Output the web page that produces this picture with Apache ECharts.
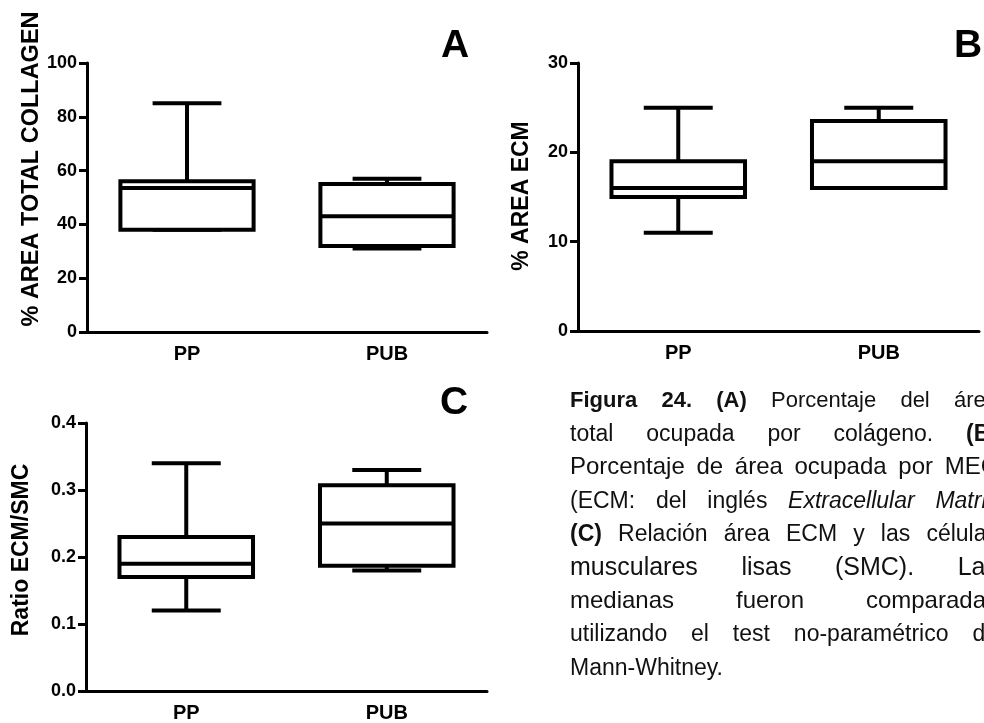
<!DOCTYPE html>
<html>
<head>
<meta charset="utf-8">
<script src="https://cdn.jsdelivr.net/npm/echarts@6/dist/echarts.min.js"></script>
<style>
  html, body { margin: 0; padding: 0; background: #fff; }
  #chart { width: 984px; height: 723px; }
</style>
</head>
<body>
<div id="chart"></div>
<script>
// Groups compared in every panel
const categories = ['PP', 'PUB'];

// Box statistics per group: [min, Q1, median, Q3, max]
const collagenStats = [
  [38, 38, 53.5, 56, 85],
  [31, 32, 43, 55, 57]
];
const ecmStats = [
  [11, 15, 16, 19, 25],
  [16, 16, 19, 23.5, 25]
];
const ratioStats = [
  [0.12, 0.17, 0.19, 0.23, 0.34],
  [0.18, 0.187, 0.25, 0.307, 0.33]
];

// Axis titles and panel tags
const yTitles = ['% AREA TOTAL COLLAGEN', '% AREA ECM', 'Ratio ECM/SMC'];
const panelTags = ['A', 'B', 'C'];

// Caption, one entry per printed line; each word may carry its own style
const captionLines = [
  [['Figura', 'b'], ['24.', 'b'], ['(A)', 'b'], ['Porcentaje'], ['del'], ['área']],
  [['total'], ['ocupada'], ['por'], ['colágeno.'], ['(B)', 'b']],
  [['Porcentaje'], ['de'], ['área'], ['ocupada'], ['por'], ['MEC']],
  [['(ECM:'], ['del'], ['inglés'], ['Extracellular', 'i'], ['Matrix', 'i']],
  [['(C)', 'b'], ['Relación'], ['área'], ['ECM'], ['y'], ['las'], ['células']],
  [['musculares'], ['lisas'], ['(SMC).'], ['Las']],
  [['medianas'], ['fueron'], ['comparadas']],
  [['utilizando'], ['el'], ['test'], ['no-paramétrico'], ['de']],
  [['Mann-Whitney.']]
];

const FONT = '"Liberation Sans", Arial, Helvetica, sans-serif';
const BLACK = '#000';

const chart = echarts.init(document.getElementById('chart'), null, { renderer: 'canvas' });

const grids = [
  { left: 87, top: 63, width: 400, height: 269 },
  { left: 578, top: 63, width: 401, height: 268 },
  { left: 86, top: 423, width: 401, height: 270 }
];

function xAxisFor(i) {
  return {
    type: 'category',
    gridIndex: i,
    data: categories,
    boundaryGap: true,
    axisLine: { lineStyle: { color: BLACK, width: 3 } },
    axisTick: { alignWithLabel: true, length: 8, lineStyle: { color: BLACK, width: 3 } },
    axisLabel: { color: BLACK, fontFamily: FONT, fontWeight: 'bold', fontSize: 20, margin: 12 },
    splitLine: { show: false }
  };
}

function yAxisFor(i, min, max, interval, fmt) {
  return {
    type: 'value',
    gridIndex: i,
    min: min, max: max, interval: interval,
    axisLine: { show: true, lineStyle: { color: BLACK, width: 3 } },
    axisTick: { show: true, length: 8, lineStyle: { color: BLACK, width: 3 } },
    axisLabel: { color: BLACK, fontFamily: FONT, fontWeight: 'bold', fontSize: 18, margin: 10, formatter: fmt },
    splitLine: { show: false }
  };
}

// Box with whiskers; caps are half as wide as the box
function renderBox(params, api) {
  const x = api.value(0);
  const band = api.size([1, 0])[0];
  const half = band * 0.333;
  const capHalf = band * 0.172;
  const pMin = api.coord([x, api.value(1)]);
  const pQ1 = api.coord([x, api.value(2)]);
  const pMed = api.coord([x, api.value(3)]);
  const pQ3 = api.coord([x, api.value(4)]);
  const pMax = api.coord([x, api.value(5)]);
  const cx = pMed[0];
  const style = { stroke: BLACK, lineWidth: 4, fill: null };
  const line = (x1, y1, x2, y2) => ({ type: 'line', shape: { x1, y1, x2, y2 }, style });
  return {
    type: 'group',
    children: [
      line(cx, pQ3[1], cx, pMax[1]),
      line(cx - capHalf, pMax[1], cx + capHalf, pMax[1]),
      line(cx, pQ1[1], cx, pMin[1]),
      line(cx - capHalf, pMin[1], cx + capHalf, pMin[1]),
      { type: 'rect', shape: { x: cx - half, y: pQ3[1], width: 2 * half, height: pQ1[1] - pQ3[1] },
        style: { stroke: BLACK, lineWidth: 4, fill: '#fff' } },
      line(cx - half, pMed[1], cx + half, pMed[1])
    ]
  };
}

function boxSeries(i, stats) {
  return {
    type: 'custom',
    xAxisIndex: i,
    yAxisIndex: i,
    renderItem: renderBox,
    encode: { x: 0, y: [1, 2, 3, 4, 5] },
    data: stats.map((s, k) => [k].concat(s)),
    silent: true
  };
}

// Caption layout: justified lines measured with the canvas text metrics
const measureCtx = document.createElement('canvas').getContext('2d');
function fontOf(kind, size) {
  const weight = kind === 'b' ? 'bold' : 'normal';
  const style = kind === 'i' ? 'italic' : 'normal';
  return { weight, style, css: `${style} ${weight} ${size}px ${FONT}` };
}
const captionSizes = [22, 23, 24, 23, 23, 25, 24, 23, 23];
const captionLeft = 570;
const captionRight = 998;
const captionTop = 401;
const captionStep = 33.4;

const captionGraphics = [];
captionLines.forEach((words, li) => {
  const size = captionSizes[li];
  const widths = words.map(w => {
    measureCtx.font = fontOf(w[1], size).css;
    return measureCtx.measureText(w[0]).width;
  });
  const total = widths.reduce((a, b) => a + b, 0);
  const last = li === captionLines.length - 1;
  const gap = (last || words.length < 2) ? size * 0.278 : (captionRight - captionLeft - total) / (words.length - 1);
  let x = captionLeft;
  words.forEach((w, wi) => {
    const f = fontOf(w[1], size);
    captionGraphics.push({
      type: 'text',
      x: x,
      y: captionTop + li * captionStep,
      style: {
        text: w[0], fill: '#111', fontFamily: FONT, fontSize: size,
        fontWeight: f.weight, fontStyle: f.style, align: 'left', verticalAlign: 'middle'
      }
    });
    x += widths[wi] + gap;
  });
});

const titlePos = [[32, 169, 23.5], [522, 196, 23], [22, 550, 23]];
const tagPos = [[455, 46], [968, 46], [454, 403]];

const graphics = [];
yTitles.forEach((t, i) => {
  graphics.push({
    type: 'text', x: titlePos[i][0], y: titlePos[i][1], rotation: Math.PI / 2,
    style: { text: t, fill: BLACK, fontFamily: FONT, fontWeight: 'bold', fontSize: titlePos[i][2],
      align: 'center', verticalAlign: 'middle' }
  });
});
panelTags.forEach((t, i) => {
  graphics.push({
    type: 'text', x: tagPos[i][0], y: tagPos[i][1],
    style: { text: t, fill: BLACK, fontFamily: FONT, fontWeight: 'bold', fontSize: 39,
      align: 'center', verticalAlign: 'middle' }
  });
});

chart.setOption({
  backgroundColor: '#fff',
  animation: false,
  grid: grids,
  xAxis: [xAxisFor(0), xAxisFor(1), xAxisFor(2)],
  yAxis: [
    yAxisFor(0, 0, 100, 20),
    yAxisFor(1, 0, 30, 10),
    yAxisFor(2, 0, 0.4, 0.1, v => v.toFixed(1))
  ],
  series: [
    boxSeries(0, collagenStats),
    boxSeries(1, ecmStats),
    boxSeries(2, ratioStats)
  ],
  graphic: graphics.concat(captionGraphics)
});
</script>
</body>
</html>
